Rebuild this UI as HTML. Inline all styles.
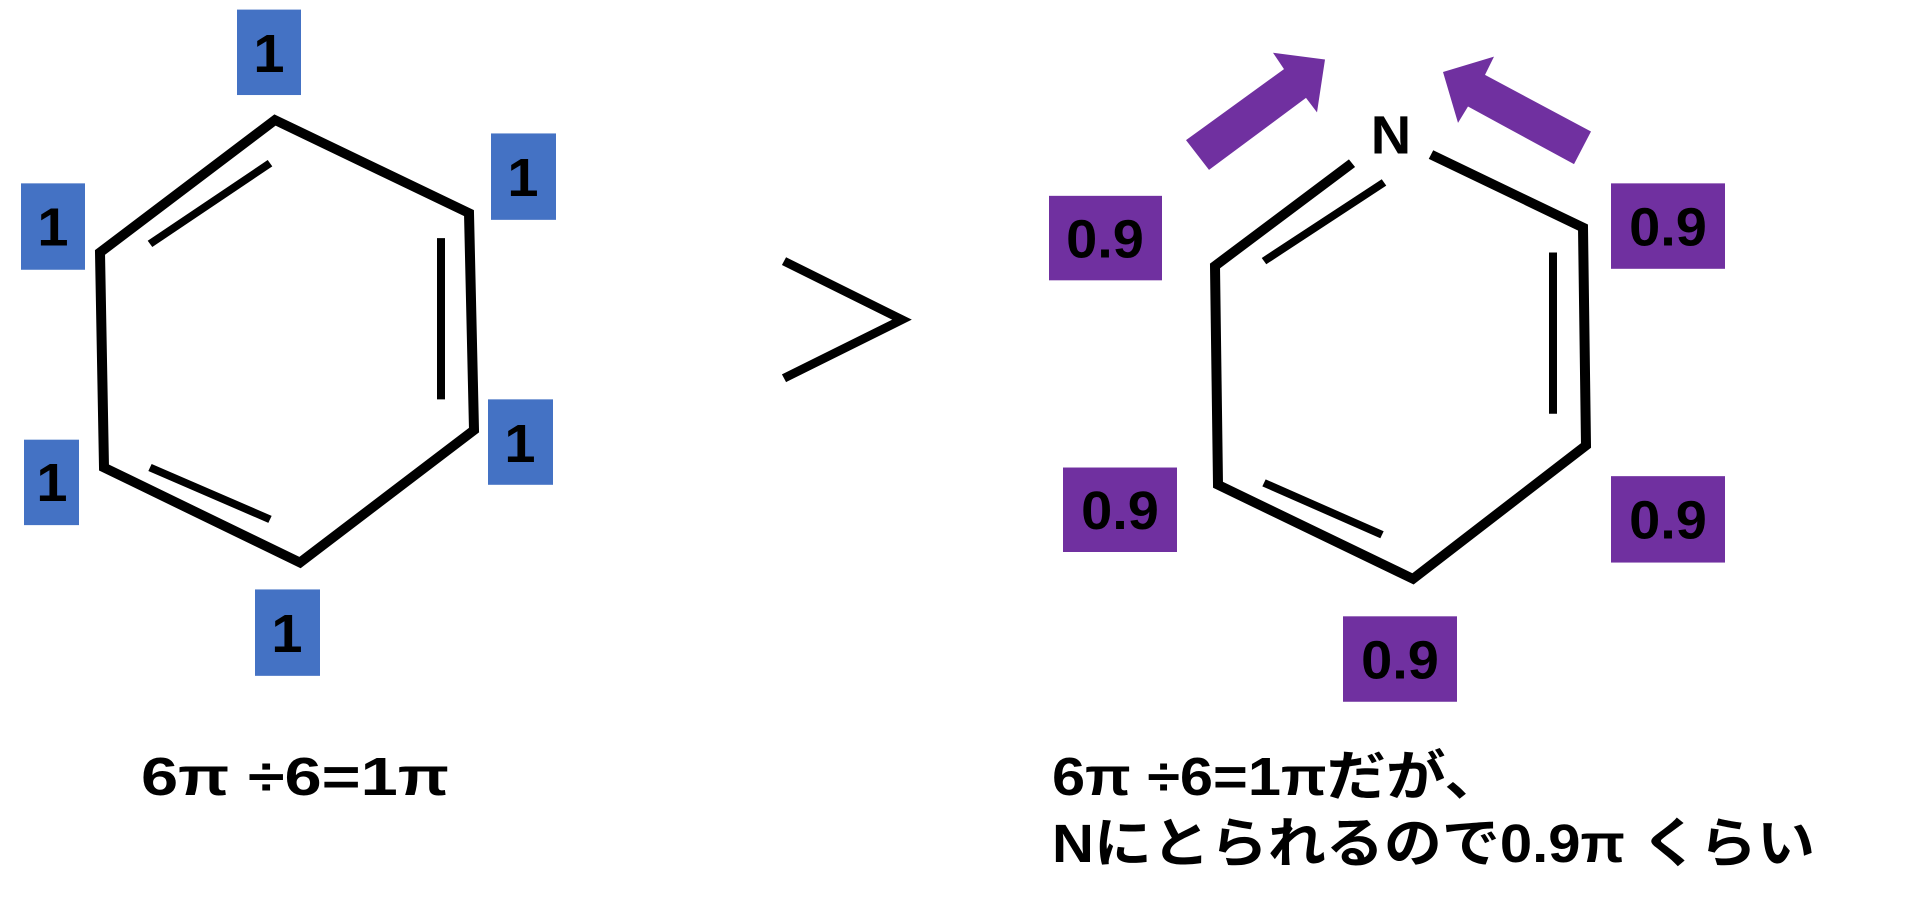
<!DOCTYPE html>
<html><head><meta charset="utf-8"><style>
html,body{margin:0;padding:0;background:#fff;}
svg{display:block;}
.t{font-family:"Liberation Sans","Noto Sans CJK JP",sans-serif;font-weight:bold;fill:#000;}
</style></head><body>
<svg width="1905" height="918" viewBox="0 0 1905 918" xmlns="http://www.w3.org/2000/svg">
<g transform="scale(1,0.96)">
<!-- Left benzene -->
<g fill="#4472C4">
<rect x="237" y="10" width="64" height="89"/>
<rect x="491" y="139" width="65" height="90"/>
<rect x="21" y="191" width="64" height="90"/>
<rect x="24" y="458" width="55" height="89"/>
<rect x="488" y="416" width="65" height="89"/>
<rect x="255" y="614" width="65" height="90"/>
</g>
<g class="t" font-size="56" text-anchor="middle">
<text x="269" y="75">1</text>
<text x="523" y="204">1</text>
<text x="53" y="256">1</text>
<text x="52" y="522">1</text>
<text x="520" y="481">1</text>
<text x="287" y="679">1</text>
</g>
<polygon points="275,125 469,222 474,448 300,586 104,487 100,263" fill="none" stroke="#000" stroke-width="10" stroke-linejoin="miter"/>
<g stroke="#000" stroke-width="8">
<line x1="150" y1="254" x2="270" y2="170"/>
<line x1="441" y1="248" x2="441" y2="416"/>
<line x1="150" y1="487" x2="270" y2="541"/>
</g>
<polyline points="784,272 902,333 784,394" fill="none" stroke="#000" stroke-width="9"/>
<text class="t" x="141" y="828" font-size="56" textLength="308" lengthAdjust="spacingAndGlyphs">6π ÷6=1π</text>

<!-- Right pyridine -->
<g fill="#7030A0">
<rect x="1049" y="204" width="113" height="88"/>
<rect x="1611" y="191" width="114" height="89"/>
<rect x="1063" y="487" width="114" height="88"/>
<rect x="1611" y="496" width="114" height="90"/>
<rect x="1343" y="642" width="114" height="89"/>
<polygon points="1186,146 1284,72 1273,55 1325,62 1317,117 1306,102 1209,177"/>
<polygon points="1591,137 1485,78 1494,59 1443,75 1458,128 1468,111 1574,171"/>
</g>
<g class="t" font-size="56" text-anchor="middle">
<text x="1105" y="268">0.9</text>
<text x="1668" y="256">0.9</text>
<text x="1120" y="551">0.9</text>
<text x="1668" y="561">0.9</text>
<text x="1400" y="707">0.9</text>
</g>
<text class="t" x="1391" y="160" font-size="56" text-anchor="middle">N</text>
<polyline points="1352,170 1215,277 1218,505 1413,603 1586,464 1583,237 1431,161" fill="none" stroke="#000" stroke-width="10" stroke-linejoin="miter"/>
<g stroke="#000" stroke-width="8">
<line x1="1264" y1="272" x2="1384" y2="190"/>
<line x1="1553" y1="263" x2="1553" y2="431"/>
<line x1="1264" y1="503" x2="1382" y2="557"/>
</g>
<text class="t" x="1052" y="828" font-size="56" textLength="452" lengthAdjust="spacingAndGlyphs">6π ÷6=1πだが、</text>
<text class="t" x="1052" y="898" font-size="56" textLength="763" lengthAdjust="spacingAndGlyphs">Nにとられるので0.9π くらい</text>
</g>
</svg>
</body></html>
